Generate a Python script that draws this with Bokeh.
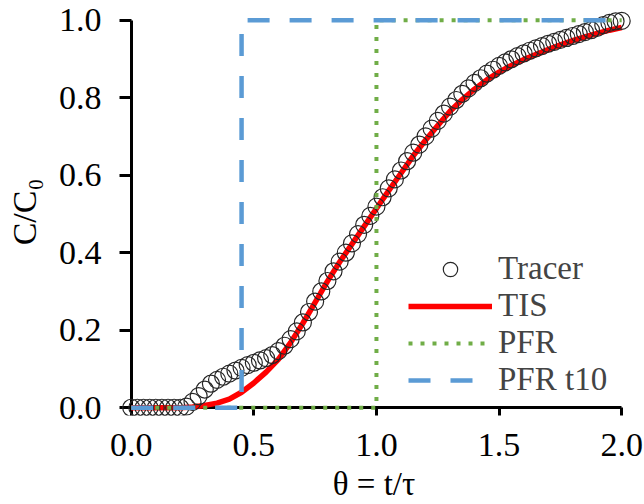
import math
from bokeh.plotting import figure
from bokeh.models import FixedTicker, Legend, LegendItem, Range1d, LinearAxis
from bokeh.embed import file_html
from bokeh.resources import INLINE

# ---------------- data ----------------
theta_tracer = [0.000, 0.025, 0.050, 0.075, 0.100, 0.125, 0.150, 0.175, 0.200, 0.225,
                0.250, 0.275, 0.300, 0.325, 0.350, 0.375, 0.400, 0.425, 0.450, 0.475,
                0.500, 0.525, 0.550, 0.575, 0.600, 0.625, 0.650, 0.675, 0.700, 0.725,
                0.750, 0.775, 0.800, 0.825, 0.850, 0.875, 0.900, 0.925, 0.950, 0.975,
                1.000, 1.025, 1.050, 1.075, 1.100, 1.125, 1.150, 1.175, 1.200, 1.225,
                1.250, 1.275, 1.300, 1.325, 1.350, 1.375, 1.400, 1.425, 1.450, 1.475,
                1.500, 1.525, 1.550, 1.575, 1.600, 1.625, 1.650, 1.675, 1.700, 1.725,
                1.750, 1.775, 1.800, 1.825, 1.850, 1.875, 1.900, 1.925, 1.950, 1.975,
                2.000]
c_tracer = [0.000, 0.000, 0.000, 0.000, 0.000, 0.000, 0.000, 0.000, 0.000, 0.003,
            0.015, 0.030, 0.047, 0.062, 0.072, 0.080, 0.088, 0.096, 0.103, 0.110,
            0.116, 0.122, 0.128, 0.136, 0.146, 0.160, 0.177, 0.197, 0.220, 0.247,
            0.274, 0.300, 0.327, 0.352, 0.377, 0.400, 0.424, 0.448, 0.472, 0.495,
            0.519, 0.543, 0.566, 0.589, 0.612, 0.636, 0.658, 0.679, 0.700, 0.720,
            0.740, 0.759, 0.777, 0.794, 0.810, 0.824, 0.838, 0.850, 0.862, 0.872,
            0.882, 0.891, 0.899, 0.907, 0.914, 0.921, 0.927, 0.933, 0.939, 0.944,
            0.949, 0.954, 0.959, 0.964, 0.969, 0.974, 0.980, 0.987, 0.993, 0.997,
            0.998]

theta_tis = [0.00, 0.05, 0.10, 0.15, 0.20, 0.25, 0.30, 0.35, 0.40, 0.45,
             0.50, 0.55, 0.60, 0.65, 0.70, 0.75, 0.80, 0.85, 0.90, 0.95,
             1.00, 1.05, 1.10, 1.15, 1.20, 1.25, 1.30, 1.35, 1.40, 1.45,
             1.50, 1.55, 1.60, 1.65, 1.70, 1.75, 1.80, 1.85, 1.90, 1.95, 2.00]
c_tis = [0.000, 0.000, 0.000, 0.000, 0.000, 0.002, 0.006, 0.012, 0.022, 0.040,
         0.064, 0.092, 0.125, 0.168, 0.218, 0.272, 0.326, 0.376, 0.422, 0.468,
         0.514, 0.560, 0.605, 0.650, 0.690, 0.728, 0.765, 0.795, 0.822, 0.846,
         0.866, 0.883, 0.898, 0.911, 0.924, 0.936, 0.947, 0.957, 0.966, 0.974, 0.981]

pfr_x = [0.0, 1.0, 1.0, 2.0]
pfr_y = [0.0, 0.0, 1.0, 1.0]
pfr10_x = [0.0, 0.45, 0.45, 2.0]
pfr10_y = [0.0, 0.0, 1.0, 1.0]

x_ticks = [0.0, 0.5, 1.0, 1.5, 2.0]
x_tick_labels = ["0.0", "0.5", "1.0", "1.5", "2.0"]
y_ticks = [0.0, 0.2, 0.4, 0.6, 0.8, 1.0]
y_tick_labels = ["0.0", "0.2", "0.4", "0.6", "0.8", "1.0"]

series_names = ["Tracer", "TIS", "PFR", "PFR t10"]
x_title = "θ = t/τ"
y_title = "C/C₀"

# ---------------- figure ----------------
FONT = "Liberation Serif"
p = figure(width=644, height=504, output_backend="svg", toolbar_location=None,
           x_range=Range1d(-0.06, 2.04), y_range=Range1d(-0.02, 1.03),
           min_border_left=116, min_border_right=13,
           min_border_top=8, min_border_bottom=88, title=None)
p.outline_line_color = None
p.xgrid.visible = False
p.ygrid.visible = False
p.background_fill_color = "white"

# panel axes (at frame edges): only tick labels and titles
lab_x = p.below[0]
lab_y = p.left[0]
for ax in (lab_x, lab_y):
    ax.axis_line_color = None
    ax.major_tick_line_color = None
    ax.minor_tick_line_color = None
    ax.major_tick_in = 0
    ax.major_tick_out = 0
    ax.major_label_text_font = FONT
    ax.major_label_text_font_size = "34px"
    ax.major_label_text_color = "black"
    ax.axis_label_text_font = FONT
    ax.axis_label_text_font_style = "normal"
    ax.axis_label_text_color = "black"
lab_x.axis_label_text_font_size = "33px"
lab_y.axis_label_text_font_size = "34px"
lab_x.ticker = FixedTicker(ticks=x_ticks)
lab_y.ticker = FixedTicker(ticks=y_ticks)
lab_x.major_label_overrides = {t: l for t, l in zip(x_ticks, x_tick_labels)}
lab_y.major_label_overrides = {t: l for t, l in zip(y_ticks, y_tick_labels)}
lab_x.major_label_standoff = 18
lab_y.major_label_standoff = 15
lab_x.axis_label = x_title
lab_y.axis_label = y_title
lab_x.axis_label_standoff = 7
lab_y.axis_label_standoff = 13

# axis lines and ticks drawn at data 0 (fixed location), no labels
line_y = LinearAxis(fixed_location=0, ticker=FixedTicker(ticks=y_ticks), bounds=(0, 1),
                    axis_line_width=3, axis_line_color="black",
                    major_tick_in=12, major_tick_out=0, major_tick_line_width=3,
                    major_tick_line_color="black", minor_tick_line_color=None,
                    major_label_text_font_size="1px", major_label_text_color=None,
                    level="underlay")
line_x = LinearAxis(fixed_location=0, ticker=FixedTicker(ticks=x_ticks), bounds=(0, 2),
                    axis_line_width=3, axis_line_color="black",
                    major_tick_in=10, major_tick_out=0, major_tick_line_width=3,
                    major_tick_line_color="black", minor_tick_line_color=None,
                    major_label_text_font_size="1px", major_label_text_color=None,
                    level="underlay")
p.add_layout(line_y, "right")
p.add_layout(line_x, "above")

r_tis = p.line(theta_tis, c_tis, line_color="#FF0000", line_width=5.5)
r_tr = p.scatter(theta_tracer, c_tracer, marker="circle", size=17,
                 fill_color=None, line_color="#262626", line_width=1.2)
r_pfr = p.line(pfr_x, pfr_y, line_color="#70AD47", line_width=4, line_dash="4 8")
r_pfr10 = p.line(pfr10_x, pfr10_y, line_color="#5B9BD5", line_width=4.5, line_dash="22 20")

legend = Legend(items=[LegendItem(label=series_names[0], renderers=[r_tr]),
                       LegendItem(label=series_names[1], renderers=[r_tis]),
                       LegendItem(label=series_names[2], renderers=[r_pfr]),
                       LegendItem(label=series_names[3], renderers=[r_pfr10])],
                location=(292, 17), glyph_width=84, glyph_height=36, label_height=36,
                spacing=0, padding=0, margin=0, label_standoff=6,
                label_text_font=FONT, label_text_font_size="33px",
                background_fill_alpha=0, border_line_color=None)
p.add_layout(legend)

open("out.html", "w").write(file_html(p, INLINE))
